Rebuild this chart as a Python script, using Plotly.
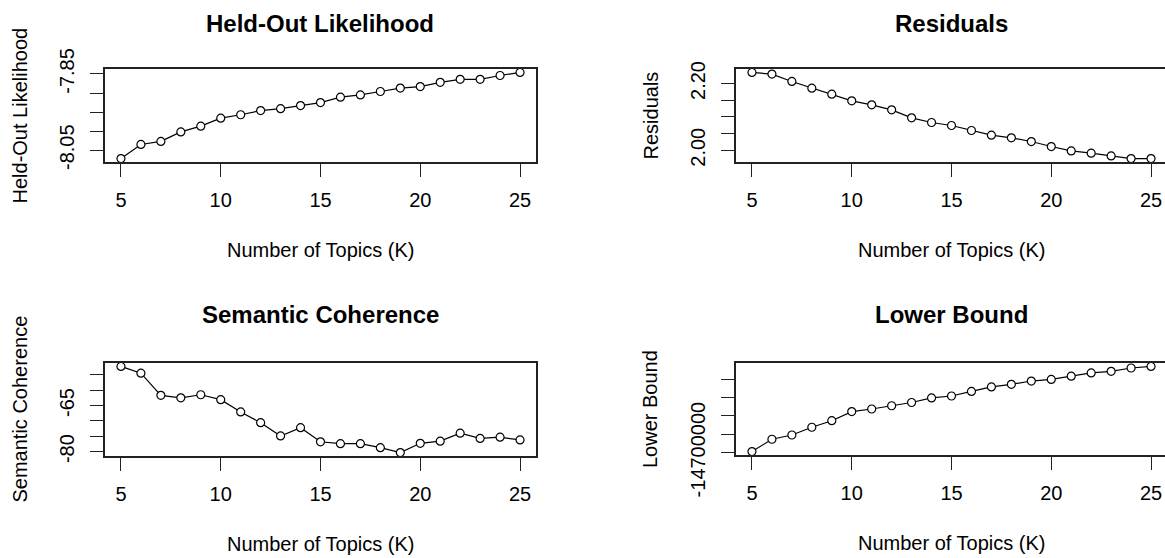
import plotly.graph_objects as go

W, H = 1165, 558

topics = [5, 6, 7, 8, 9, 10, 11, 12, 13, 14, 15, 16, 17, 18, 19, 20, 21, 22, 23, 24, 25]
heldout = [-8.072, -8.035, -8.027, -8.002, -7.987, -7.966, -7.957, -7.946, -7.941, -7.933, -7.925,
           -7.911, -7.905, -7.896, -7.887, -7.883, -7.872, -7.864, -7.864, -7.854, -7.846]
residuals = [2.233, 2.228, 2.206, 2.186, 2.168, 2.148, 2.136, 2.121, 2.097, 2.083, 2.074,
             2.059, 2.045, 2.037, 2.026, 2.011, 1.998, 1.991, 1.983, 1.975, 1.975]
semcoh = [-52.3, -54.5, -61.7, -62.5, -61.5, -63.1, -67.1, -70.6, -74.9, -72.2, -76.8,
          -77.4, -77.4, -78.7, -80.3, -77.3, -76.6, -74.0, -75.7, -75.3, -76.2]
lowerbound = [-14697300, -14663700, -14652200, -14631000, -14613300, -14588500, -14581400,
              -14572600, -14563700, -14551300, -14546000, -14533600, -14521200, -14514200,
              -14505300, -14500900, -14492000, -14483200, -14478800, -14469900, -14465500]

titles = ["Held-Out Likelihood", "Residuals", "Semantic Coherence", "Lower Bound"]
ylabels = ["Held-Out Likelihood", "Residuals", "Semantic Coherence", "Lower Bound"]
xlabel = "Number of Topics (K)"
xticks = [5, 10, 15, 20, 25]
ytickvals = [
    [-8.05, -8.00, -7.95, -7.90, -7.85],
    [2.00, 2.05, 2.10, 2.15, 2.20],
    [-80, -75, -70, -65, -60, -55],
    [-14700000, -14650000, -14600000, -14550000, -14500000],
]
yticktext = [
    ["-8.05", "", "", "", "-7.85"],
    ["2.00", "", "", "", "2.20"],
    ["-80", "", "", "-65", "", ""],
    ["-14700000", "", "", "", ""],
]
series = [heldout, residuals, semcoh, lowerbound]

# panel boxes in pixels: (left, right, top, bottom)
boxes = [(105, 536, 69, 162), (736, 1167, 69, 162), (105, 536, 363, 456), (736, 1167, 363, 455)]
title_gap = [46, 46, 49, 49]

FONT = "Liberation Sans, Arial, sans-serif"


def rng(v):
    lo, hi = min(v), max(v)
    d = (hi - lo) * 0.04
    return [lo - d, hi + d]


fig = go.Figure()
annotations = []
for i, (vals, box) in enumerate(zip(series, boxes)):
    n = "" if i == 0 else str(i + 1)
    l, r, t, b = box
    rr = min(r, W)
    xr = rng(topics)
    # crop x range if panel exceeds the canvas
    xr = [xr[0], xr[0] + (xr[1] - xr[0]) * (rr - l) / (r - l)]
    fig.add_trace(go.Scatter(
        x=topics, y=vals, mode="lines+markers", xaxis="x" + n, yaxis="y" + n,
        line=dict(color="black", width=1.2),
        marker=dict(symbol="circle", size=8, color="white", line=dict(color="black", width=1.2)),
        showlegend=False, cliponaxis=False,
    ))
    common = dict(showgrid=False, zeroline=False, showline=True, linecolor="#222", linewidth=1.5,
                  ticks="outside", ticklen=13, tickwidth=1.3, tickcolor="#222", automargin=False,
                  tickfont=dict(family=FONT, size=20, color="black"))
    fig.update_layout(**{
        "xaxis" + n: dict(domain=[l / W, rr / W], range=xr, anchor="y" + n, mirror=True,
                          tickvals=xticks, ticklabelstandoff=6, **common),
        "yaxis" + n: dict(domain=[1 - b / H, 1 - t / H], range=rng(vals), anchor="x" + n,
                          mirror=(r <= W), tickvals=ytickvals[i], ticktext=yticktext[i],
                          tickangle=-90, ticklabelstandoff=8, **common),
    })
    cx = (l + r) / 2
    annotations.append(dict(text="<b>" + titles[i] + "</b>", x=cx / W, y=1 - (t - title_gap[i]) / H,
                            xref="paper", yref="paper", showarrow=False, xanchor="center",
                            yanchor="middle", font=dict(family=FONT, size=24, color="black")))
    annotations.append(dict(text=xlabel, x=cx / W, y=1 - (b + 88) / H,
                            xref="paper", yref="paper", showarrow=False, xanchor="center",
                            yanchor="middle", font=dict(family=FONT, size=20, color="black")))
    annotations.append(dict(text=ylabels[i], x=(l - 86) / W, y=1 - ((t + b) / 2) / H,
                            xref="paper", yref="paper", showarrow=False, xanchor="center",
                            yanchor="middle", textangle=-90,
                            font=dict(family=FONT, size=20, color="black")))

fig.update_layout(width=W, height=H, margin=dict(l=0, r=0, t=0, b=0, autoexpand=False),
                  paper_bgcolor="white", plot_bgcolor="white", annotations=annotations)
fig.write_html("out.html")
